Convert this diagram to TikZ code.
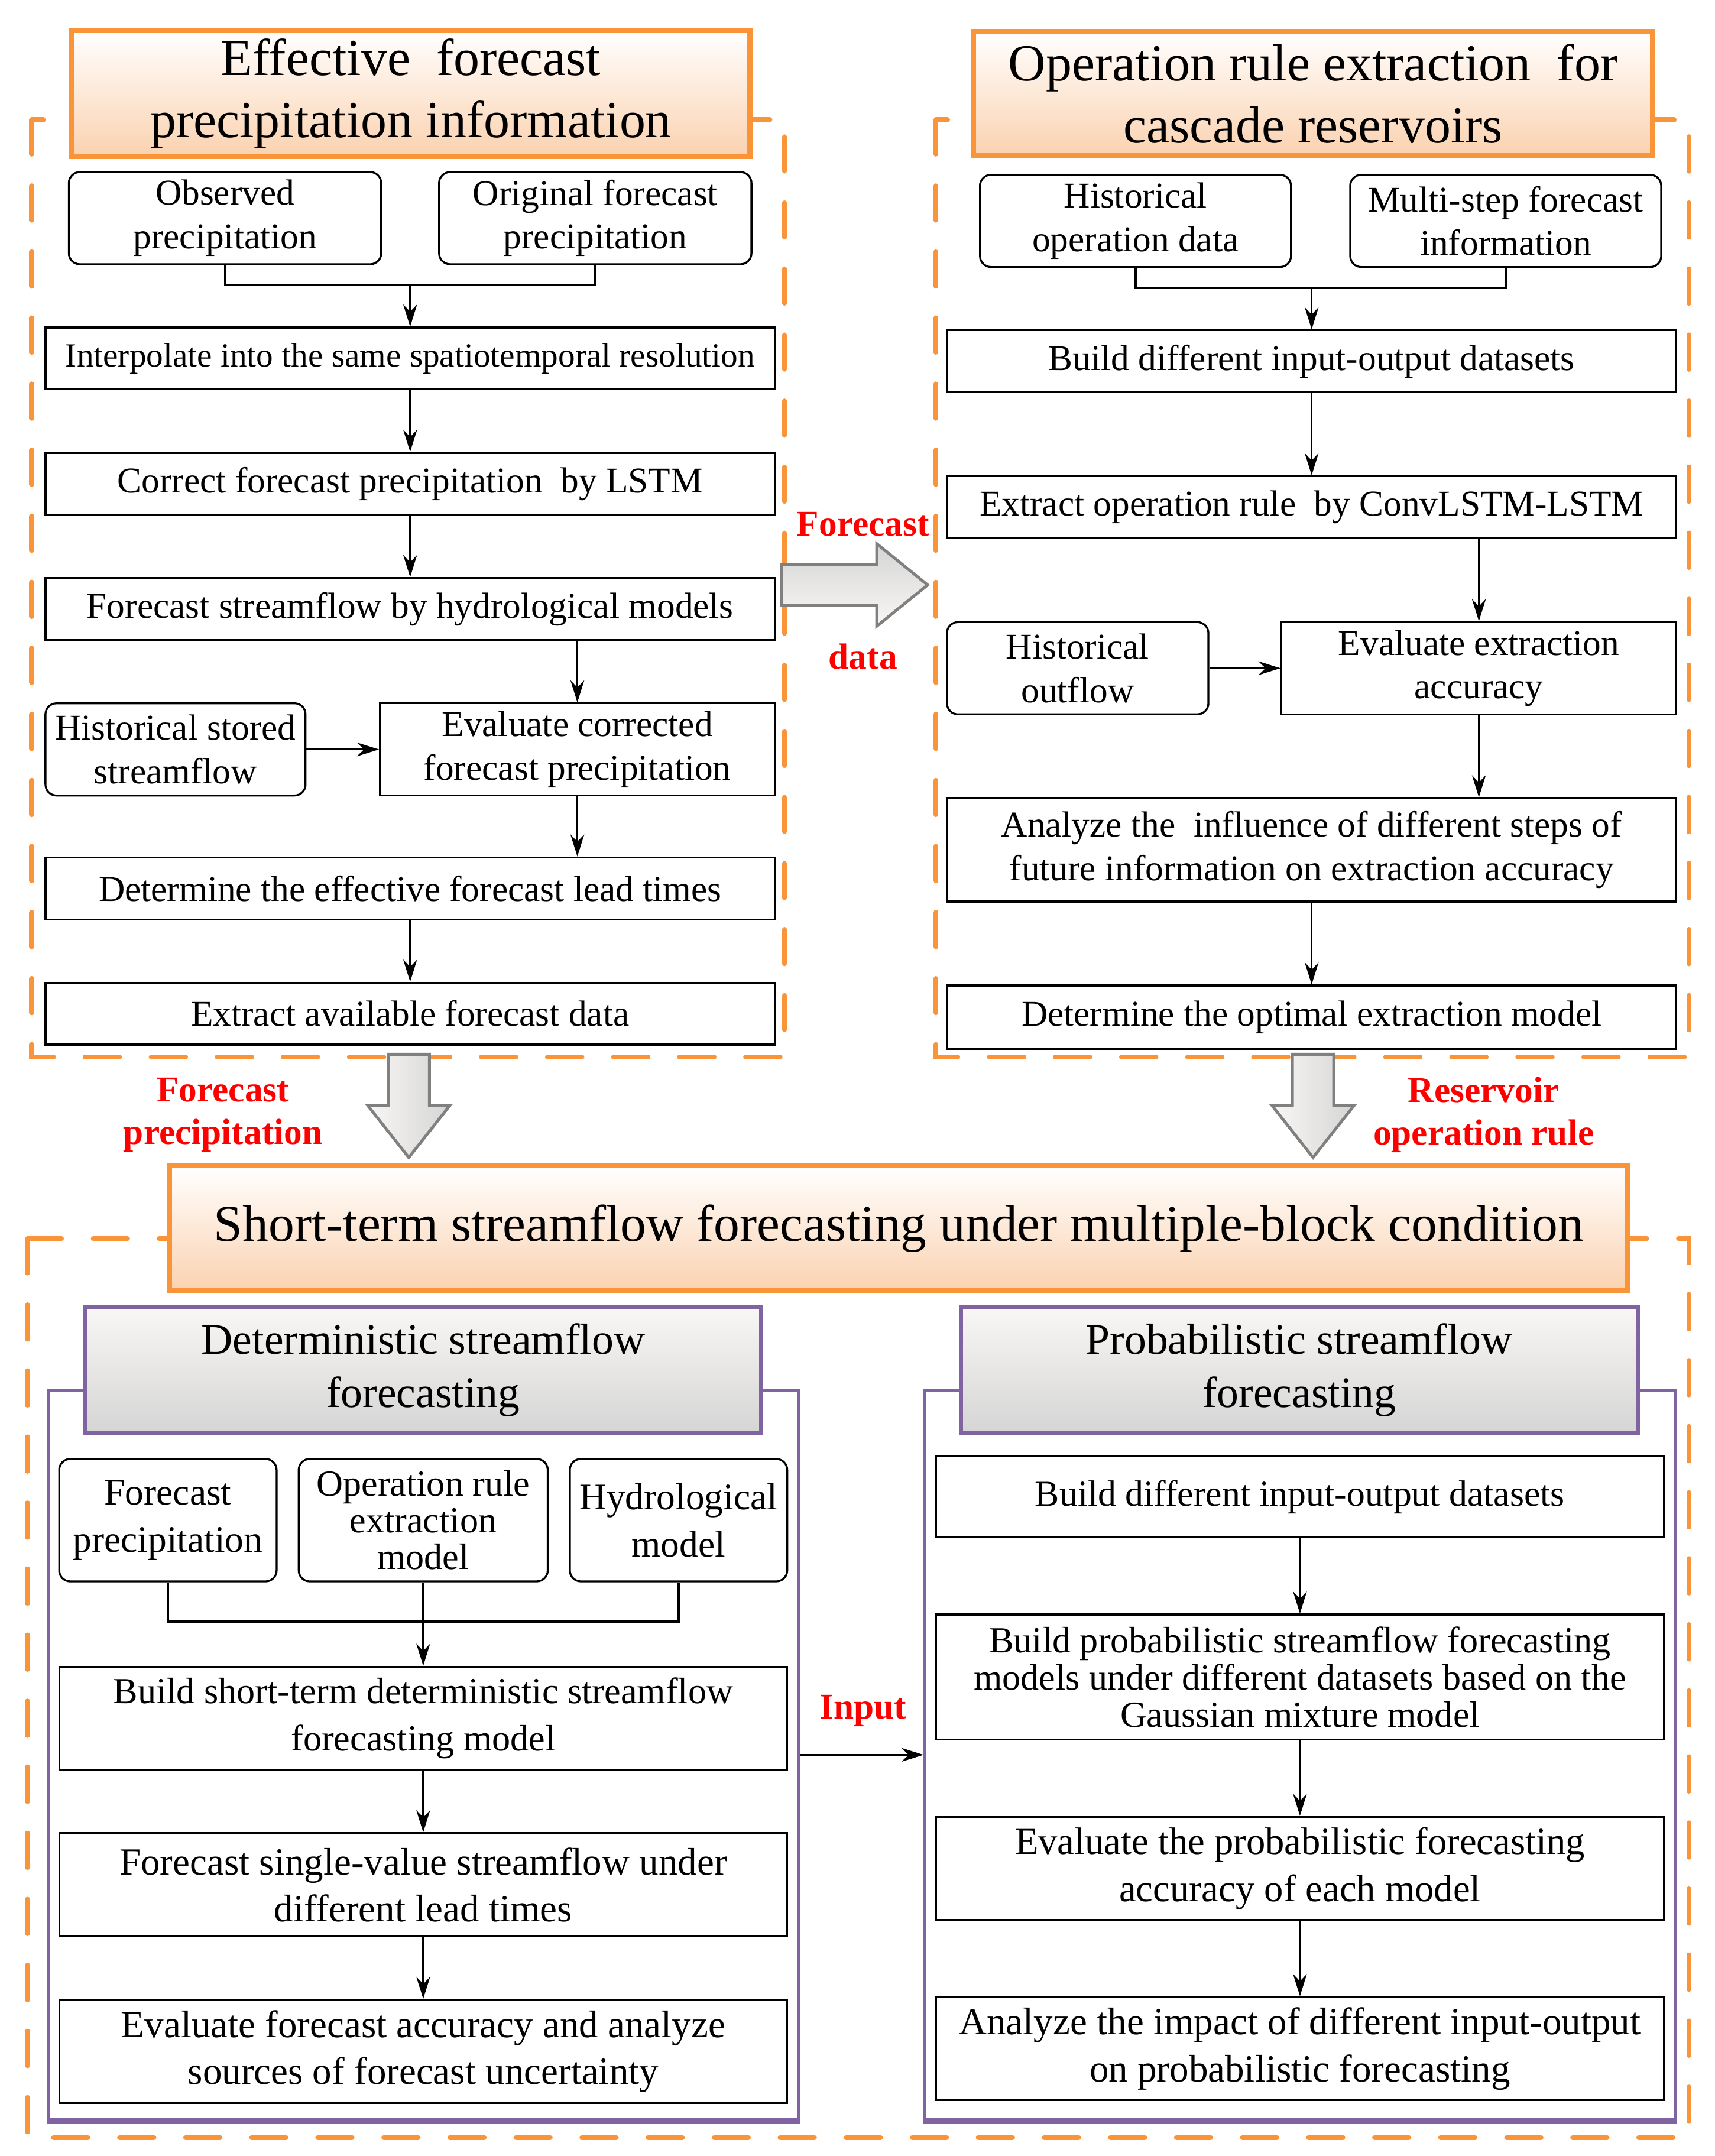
\documentclass[tikz,border=0pt]{standalone}
\usepackage{fontspec}
\setmainfont{Liberation Serif}
\usetikzlibrary{arrows.meta, positioning, calc}
\definecolor{frameorange}{RGB}{250,148,56}
\definecolor{peach}{RGB}{251,210,176}
\definecolor{boxpurple}{RGB}{128,100,162}
\definecolor{greylight}{RGB}{249,247,245}
\definecolor{greydark}{RGB}{213,213,213}
\definecolor{arrowgrey}{RGB}{128,128,128}

\begin{document}
\begin{tikzpicture}[x=0.02cm, y=-0.02cm,
    box/.style={draw, line width=0.8pt, fill=white, align=center, inner sep=1pt, font=\fontsize{15}{18}\selectfont},
    rbox/.style={box, rounded corners=0.16cm},
    lowbox/.style={box, font=\fontsize{15.5}{19.5}\selectfont},
    lowrbox/.style={lowbox, rounded corners=0.16cm},
    ttl/.style={draw=frameorange, line width=2.2pt, top color=white, bottom color=peach, align=center, font=\fontsize{21.5}{25.6}\selectfont},
    subttl/.style={draw=boxpurple, line width=1.7pt, top color=greylight, bottom color=greydark, align=center, font=\fontsize{18}{22}\selectfont},
    frame/.style={draw=frameorange, line width=2pt, line cap=round, dash pattern=on 0.5cm off 0.46cm},
    pframe/.style={draw=boxpurple, line width=1.2pt, fill=white, inner sep=0pt},
    blockarrow/.style={draw=arrowgrey, line width=1.2pt},
    lbl/.style={text=red, align=center, font=\bfseries\fontsize{15}{17.6}\selectfont},
    arr/.style={-{Stealth[length=0.32cm, width=0.2cm]}, line width=0.8pt},
    joinline/.style={line width=1pt}
  ]
  \useasboundingbox (0,0) rectangle (1246,1566.5);

  % dashed frames
  \draw[frame] (23,87) rectangle (570,768);
  \draw[frame] (680,87) rectangle (1227,768);
  \draw[frame] (20,900) rectangle (1227,1553);

  % effective forecast precipitation information
  \node[ttl, minimum width=9.86cm, minimum height=1.8cm] (effttl) at (298.5,68) {Effective\ \ forecast\\precipitation information};
  \node[rbox, minimum width=4.54cm, minimum height=1.34cm] (obs) at (163.5,158.5) {Observed\\precipitation};
  \node[rbox, minimum width=4.54cm, minimum height=1.34cm] (orig) at (432.5,158.5) {Original forecast\\precipitation};
  \node[box, minimum width=10.6cm, minimum height=0.9cm, font=\fontsize{14}{18}\selectfont] (interp) at (298,260.5) {Interpolate into the same spatiotemporal resolution};
  \node[box, minimum width=10.6cm, minimum height=0.9cm] (corr) at (298,351.5) {Correct forecast precipitation\ \ by LSTM};
  \node[box, minimum width=10.6cm, minimum height=0.9cm] (fsf) at (298,442.5) {Forecast streamflow by hydrological models};
  \node[rbox, minimum width=3.78cm, minimum height=1.34cm] (hss) at (127.5,544.5) {Historical stored\\streamflow};
  \node[box, minimum width=5.74cm, minimum height=1.34cm] (ecfp) at (419.5,544.5) {Evaluate corrected\\forecast precipitation};
  \node[box, minimum width=10.6cm, minimum height=0.9cm] (delt) at (298,645.5) {Determine the effective forecast lead times};
  \node[box, minimum width=10.6cm, minimum height=0.9cm] (eafd) at (298,736.5) {Extract available forecast data};

  \coordinate (jA) at (298,207);
  \draw[joinline] (obs.south) |- (jA) -| (orig.south);
  \draw[arr] (jA) -- (interp.north);
  \draw[arr] (interp.south) -- (corr.north);
  \draw[arr] (corr.south) -- (fsf.north);
  \draw[arr] (fsf.south -| ecfp.north) -- (ecfp.north);
  \draw[arr] (hss.east) -- (ecfp.west);
  \draw[arr] (ecfp.south) -- (ecfp.south |- delt.north);
  \draw[arr] (delt.south) -- (eafd.north);

  % operation rule extraction for cascade reservoirs
  \node[ttl, minimum width=9.88cm, minimum height=1.8cm] (oprttl) at (954,68) {Operation rule extraction\ \ for\\cascade reservoirs};
  \node[rbox, minimum width=4.52cm, minimum height=1.34cm] (hod) at (825,160.5) {Historical\\operation data};
  \node[rbox, minimum width=4.52cm, minimum height=1.34cm] (msfi) at (1094,160.5) {Multi-step forecast\\information};
  \node[box, minimum width=10.6cm, minimum height=0.9cm] (bdio) at (953,262.5) {Build different input-output datasets};
  \node[box, minimum width=10.6cm, minimum height=0.9cm] (eor) at (953,368.5) {Extract operation rule\ \ by ConvLSTM-LSTM};
  \node[rbox, minimum width=3.8cm, minimum height=1.34cm] (ho) at (783,485.5) {Historical\\outflow};
  \node[box, minimum width=5.74cm, minimum height=1.34cm] (eea) at (1074.5,485.5) {Evaluate extraction\\accuracy};
  \node[box, minimum width=10.6cm, minimum height=1.5cm] (aid) at (953,617.5) {Analyze the\ \ influence of different steps of\\future information on extraction accuracy};
  \node[box, minimum width=10.6cm, minimum height=0.92cm] (doem) at (953,739) {Determine the optimal extraction model};

  \coordinate (jB) at (953,209);
  \draw[joinline] (hod.south) |- (jB) -| (msfi.south);
  \draw[arr] (jB) -- (bdio.north);
  \draw[arr] (bdio.south) -- (eor.north);
  \draw[arr] (eor.south -| eea.north) -- (eea.north);
  \draw[arr] (ho.east) -- (eea.west);
  \draw[arr] (eea.south) -- (eea.south |- aid.north);
  \draw[arr] (aid.south) -- (doem.north);

  % block arrows between the parts
  \shade[blockarrow, top color=greydark, bottom color=greylight] (568,410) -- (637,410) -- (637,395) -- (674,425) -- (637,455) -- (637,440) -- (568,440) -- cycle;
  \shade[blockarrow, left color=greylight, right color=greydark] (282,766) -- (312,766) -- (312,803) -- (327,803) -- (297,841) -- (267,803) -- (282,803) -- cycle;
  \shade[blockarrow, left color=greylight, right color=greydark] (939,766) -- (969,766) -- (969,803) -- (984,803) -- (954,841) -- (924,803) -- (939,803) -- cycle;
  \node[lbl] (fclbl) at (627,381) {Forecast};
  \node[lbl] (datalbl) at (627,477) {data};
  \node[lbl] (fplbl) at (162,810) {Forecast\\precipitation};
  \node[lbl] (rorlbl) at (1078,810) {Reservoir\\operation rule};

  % short-term streamflow forecasting
  \node[ttl, minimum width=21.2cm, minimum height=1.82cm, font=\fontsize{21.4}{25.6}\selectfont] (stfttl) at (653,892.5) {Short-term streamflow forecasting under multiple-block condition};

  \node[pframe, minimum width=10.9cm, minimum height=10.6cm] (detframe) at (307.5,1275) {};
  \node[pframe, minimum width=10.9cm, minimum height=10.6cm] (probframe) at (944.5,1275) {};
  \draw[boxpurple, line width=2.6pt] (detframe.south west) -- (detframe.south east);
  \draw[boxpurple, line width=2.6pt] (probframe.south west) -- (probframe.south east);
  \node[subttl, minimum width=9.82cm, minimum height=1.82cm] (detttl) at (307.5,995.5) {Deterministic streamflow\\forecasting};
  \node[subttl, minimum width=9.84cm, minimum height=1.82cm] (probttl) at (944,995.5) {Probabilistic streamflow\\forecasting};

  % deterministic
  \node[lowrbox, minimum width=3.16cm, minimum height=1.78cm] (fp) at (122,1104.5) {Forecast\\precipitation};
  \node[lowrbox, minimum width=3.62cm, minimum height=1.78cm, font=\fontsize{15.2}{15.2}\selectfont] (orem) at (307.5,1104.5) {Operation rule\\extraction\\model};
  \node[lowrbox, minimum width=3.16cm, minimum height=1.78cm] (hm) at (493,1104.5) {Hydrological\\model};
  \node[lowbox, minimum width=10.58cm, minimum height=1.5cm, font=\fontsize{15.2}{19.5}\selectfont] (bsdm) at (307.5,1248.5) {Build short-term deterministic streamflow\\forecasting model};
  \node[lowbox, minimum width=10.58cm, minimum height=1.5cm, font=\fontsize{15.9}{19.5}\selectfont] (fsv) at (307.5,1369.5) {Forecast single-value streamflow under\\different lead times};
  \node[lowbox, minimum width=10.58cm, minimum height=1.5cm, font=\fontsize{15.9}{19.5}\selectfont] (efa) at (307.5,1490.5) {Evaluate forecast accuracy and analyze\\sources of forecast uncertainty};

  \coordinate (jC) at (307.5,1178);
  \draw[joinline] (fp.south) |- (jC) -| (hm.south);
  \draw[arr] (orem.south) -- (bsdm.north);
  \draw[arr] (bsdm.south) -- (fsv.north);
  \draw[arr] (fsv.south) -- (efa.north);

  % probabilistic
  \node[lowbox, minimum width=10.58cm, minimum height=1.18cm, font=\fontsize{15.1}{19.5}\selectfont] (bdiotwo) at (944.5,1087.5) {Build different input-output datasets};
  \node[lowbox, minimum width=10.58cm, minimum height=1.82cm, font=\fontsize{15.2}{15.4}\selectfont] (bpsf) at (944.5,1218.5) {Build probabilistic streamflow forecasting\\models under different datasets based on the\\Gaussian mixture model};
  \node[lowbox, minimum width=10.58cm, minimum height=1.5cm, font=\fontsize{15.8}{19.5}\selectfont] (epfa) at (944.5,1357.5) {Evaluate the probabilistic forecasting\\accuracy of each model};
  \node[lowbox, minimum width=10.58cm, minimum height=1.5cm, font=\fontsize{15.9}{19.5}\selectfont] (aii) at (944.5,1488.5) {Analyze the impact of different input-output\\on probabilistic forecasting};

  \draw[arr] (bdiotwo.south) -- (bpsf.north);
  \draw[arr] (bpsf.south) -- (epfa.north);
  \draw[arr] (epfa.south) -- (aii.north);

  \draw[arr] (detframe.east) -- (probframe.west);
  \node[lbl] (inlbl) at (627,1243) {Input};
\end{tikzpicture}
\end{document}
